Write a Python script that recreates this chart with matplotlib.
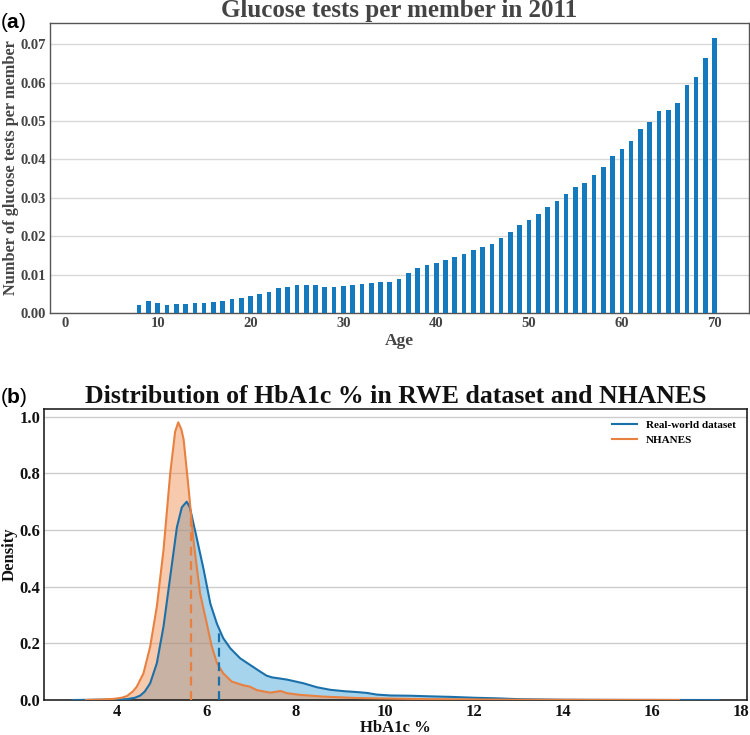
import matplotlib
matplotlib.use("Agg")
import matplotlib.pyplot as plt
import numpy as np

# panel (a): glucose tests per member by age
ages = list(range(8, 71))
tests_per_member = [
    0.0021, 0.0032, 0.0025, 0.0020, 0.0023, 0.0023, 0.0025, 0.0027, 0.0029, 0.0031,
    0.0037, 0.0039, 0.0045, 0.0049, 0.0056, 0.0064, 0.0069, 0.0072, 0.0072, 0.0072,
    0.0069, 0.0067, 0.0070, 0.0072, 0.0075, 0.0077, 0.0080, 0.0082, 0.0089, 0.0103,
    0.0117, 0.0124, 0.0131, 0.0138, 0.0145, 0.0154, 0.0163, 0.0173, 0.0180, 0.0196,
    0.0210, 0.0230, 0.0241, 0.0259, 0.0277, 0.0292, 0.0309, 0.0327, 0.0338, 0.0360,
    0.0380, 0.0409, 0.0426, 0.0447, 0.0480, 0.0496, 0.0526, 0.0528, 0.0546, 0.0593,
    0.0614, 0.0663, 0.0717,
]

# panel (b): HbA1c density curves
rwe_x = [3.0, 3.5, 4.0, 4.22, 4.4, 4.52, 4.62, 4.74, 4.89, 5.04, 5.19, 5.34, 5.45,
         5.56, 5.63, 5.78, 5.94, 6.09, 6.24, 6.38, 6.54, 6.76, 6.98, 7.21, 7.35,
         7.47, 7.81, 8.18, 8.48, 8.78, 9.1, 9.38, 9.6, 9.83, 10.13, 10.6, 11.0,
         11.5, 12.0, 12.5, 13.0, 13.5, 14.0, 15.0, 16.0, 17.5]
rwe_y = [0.0, 0.001, 0.002, 0.003, 0.008, 0.016, 0.03, 0.059, 0.13, 0.26, 0.435,
         0.61, 0.68, 0.70, 0.68, 0.575, 0.46, 0.34, 0.268, 0.218, 0.182, 0.147,
         0.124, 0.10, 0.086, 0.08, 0.072, 0.059, 0.045, 0.036, 0.031, 0.028, 0.025,
         0.019, 0.016, 0.015, 0.013, 0.011, 0.008, 0.006, 0.003, 0.002, 0.001,
         0.0005, 0.0003, 0.0]
nhanes_x = [3.3, 3.7, 3.92, 4.1, 4.22, 4.35, 4.44, 4.59, 4.74, 4.89, 5.04, 5.19,
            5.30, 5.37, 5.44, 5.49, 5.60, 5.71, 5.86, 6.01, 6.12, 6.24, 6.38, 6.57,
            6.83, 6.98, 7.13, 7.43, 7.6, 7.66, 7.81, 8.11, 8.63, 9.38, 10.13, 11.0,
            12.0, 13.0, 14.0, 15.0, 16.6]
nhanes_y = [0.0, 0.002, 0.004, 0.008, 0.014, 0.03, 0.047, 0.094, 0.188, 0.33, 0.53,
            0.80, 0.947, 0.98, 0.955, 0.92, 0.75, 0.565, 0.376, 0.27, 0.19, 0.13,
            0.094, 0.065, 0.052, 0.047, 0.035, 0.026, 0.03, 0.032, 0.024, 0.018,
            0.012, 0.007, 0.005, 0.003, 0.002, 0.001, 0.0007, 0.0004, 0.0]
medians = [6.28, 5.65]
median_heights = [0.24, 0.665]
labels = ["Real-world dataset", "NHANES"]

serif = "Liberation Serif"
plt.rcParams["mathtext.fontset"] = "custom"
plt.rcParams["mathtext.bf"] = "Liberation Sans:bold"
plt.rcParams["mathtext.rm"] = "Liberation Sans"

fig = plt.figure(figsize=(7.5, 7.35), dpi=100)

# ---- (a)
gray = "#444444"
ax1 = fig.add_axes([0.0667, 0.5741, 0.932, 0.3946])
ax1.bar(ages, tests_per_member, width=0.5, color="#1479bd", zorder=3)
ax1.set_xlim(-1.6, 73.7)
ax1.set_ylim(0, 0.0755)
ax1.set_xticks(range(0, 71, 10))
ax1.set_yticks(np.arange(0, 0.071, 0.01))
ax1.set_yticklabels([f"{v:.2f}" for v in np.arange(0, 0.071, 0.01)])
ax1.grid(axis="y", color="#d9d9d9", lw=1, zorder=0)
ax1.tick_params(length=0, pad=3, labelsize=10.5, colors=gray)
for lab in ax1.get_xticklabels() + ax1.get_yticklabels():
    lab.set_fontfamily(serif)
    lab.set_fontweight("bold")
for s in ax1.spines.values():
    s.set_color("#555555")
    s.set_linewidth(1.0)
ax1.set_title("Glucose tests per member in 2011", fontsize=18, fontweight="bold",
              family=serif, color=gray, pad=4)
ax1.set_xlabel("Age", fontsize=12.5, fontweight="bold", family=serif, color=gray, labelpad=2)
ax1.set_ylabel("Number of glucose tests per member", fontsize=11.8, fontweight="bold",
               family=serif, color=gray, labelpad=1)

# ---- (b)
ax2 = fig.add_axes([0.0593, 0.0476, 0.937, 0.3959])
line_cols = ["#1b70aa", "#e8803f"]
fill_cols = ["#3aa0d8", "#f08a4b"]
for xs, ys, lc, fc, lab in [(rwe_x, rwe_y, line_cols[0], fill_cols[0], labels[0]),
                            (nhanes_x, nhanes_y, line_cols[1], fill_cols[1], labels[1])]:
    ax2.fill_between(xs, ys, color=fc, alpha=0.45, lw=0, zorder=2)
    ax2.plot(xs, ys, color=lc, lw=1.5, label=lab, zorder=3)
for m, h, lc in zip(medians, median_heights, line_cols):
    ax2.vlines(m, 0, h, colors=lc, linestyles=(0, (4, 2.5)), lw=1.6, zorder=4)
ax2.set_xlim(2.37, 18.13)
ax2.set_ylim(0, 1.027)
ax2.set_xticks(range(4, 19, 2))
ax2.set_yticks(np.arange(0, 1.01, 0.2))
ax2.set_yticklabels([f"{v:.1f}" for v in np.arange(0, 1.01, 0.2)])
ax2.grid(axis="y", color="#cccccc", lw=1, zorder=0)
ax2.tick_params(length=0, pad=3, labelsize=12, colors="#111111")
for lab in ax2.get_xticklabels() + ax2.get_yticklabels():
    lab.set_fontfamily(serif)
    lab.set_fontweight("bold")
for s in ax2.spines.values():
    s.set_color("#222222")
    s.set_linewidth(1.2)
ax2.set_title("Distribution of HbA1c % in RWE dataset and NHANES", fontsize=18.5,
              fontweight="bold", family=serif, color="#111111", pad=4)
ax2.set_xlabel("HbA1c %", fontsize=12, fontweight="bold", family=serif, color="#111111", labelpad=0)
ax2.set_ylabel("Density", fontsize=12, fontweight="bold", family=serif, color="#111111", labelpad=1)
ax2.legend(loc="upper right", frameon=False, prop={"family": serif, "weight": "bold", "size": 8},
           handlelength=2.3, borderaxespad=0.6)

fig.text(0.0, 0.985, r"($\mathbf{a}$)", fontsize=15, family="Liberation Sans", va="top", ha="left")
fig.text(0.0, 0.475, r"($\mathbf{b}$)", fontsize=15, family="Liberation Sans", va="top", ha="left")

fig.savefig("out.png", dpi=100)
